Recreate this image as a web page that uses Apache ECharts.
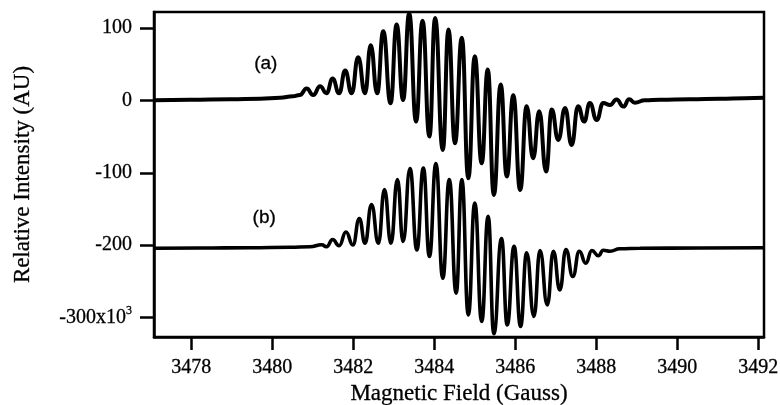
<!DOCTYPE html>
<html>
<head>
<meta charset="utf-8">
<script src="https://cdn.jsdelivr.net/npm/echarts@6/dist/echarts.min.js"></script>
<style>
  html, body { margin: 0; padding: 0; background: #fff; }
  #chart { width: 780px; height: 405px; }
</style>
</head>
<body>
<div id="chart"></div>
<script>
// spectrum (a): peaks and troughs (Gauss, x10^3 AU)
var fieldA = [3477.08, 3477.97, 3478.96, 3479.70, 3480.19, 3480.51,
  3480.68, 3480.85, 3481.01, 3481.18, 3481.34, 3481.49, 3481.65, 3481.80, 3481.96, 3482.12,
  3482.29, 3482.43, 3482.59, 3482.74, 3482.92, 3483.07, 3483.23, 3483.38, 3483.55, 3483.71,
  3483.88, 3484.02, 3484.21, 3484.35, 3484.51, 3484.68, 3484.84, 3485.00, 3485.17, 3485.32,
  3485.47, 3485.64, 3485.79, 3485.95, 3486.12, 3486.28, 3486.44, 3486.59, 3486.76, 3486.90,
  3487.06, 3487.23, 3487.39, 3487.55, 3487.70, 3487.84, 3488.01, 3488.17, 3488.34, 3488.50,
  3488.67, 3488.81, 3488.95, 3489.20, 3489.57, 3490.31, 3491.05, 3491.67, 3492.14];
var intensityA = [0, 0.7, 1.4, 2.1, 3.4, 5.5,
  7.3, 16.1, 7.3, 19.3, 9.7, 29.9, 9.7, 41.0, 9.7, 59.3,
  9.7, 75.9, 9.7, 95.2, -4.1, 104.4, 0.4, 120, -29.4, 109.9,
  -50.1, 113.5, -68.6, 97.5, -59.3, 86.2, -107.6, 60.7, -86.9, 42.3,
  -130.6, 21.7, -105.2, 6.9, -123.7, -8.3, -80, -15.2, -98.3, -12.8,
  -54.8, -10.6, -61.7, -8.3, -29.4, -3.7, -27.2, -3.7, -6.5, 1.0,
  -8.7, 1.4, -3.4, 0, 0.7, 1.4, 2.1, 2.8, 3.4];

// spectrum (b)
var fieldB = [3477.08, 3478.22, 3479.45, 3480.44, 3480.93,
  3481.22, 3481.34, 3481.49, 3481.65, 3481.82, 3481.99, 3482.15, 3482.29, 3482.45, 3482.62,
  3482.77, 3482.93, 3483.09, 3483.23, 3483.40, 3483.57, 3483.73, 3483.88, 3484.04, 3484.21,
  3484.37, 3484.54, 3484.68, 3484.84, 3485.00, 3485.17, 3485.33, 3485.47, 3485.66, 3485.80,
  3485.97, 3486.13, 3486.28, 3486.46, 3486.61, 3486.79, 3486.94, 3487.10, 3487.25, 3487.42,
  3487.58, 3487.74, 3487.89, 3488.05, 3488.17, 3488.34, 3488.58, 3489.08, 3490.56, 3492.14];
var intensityB = [-204.1, -203.9, -203.4, -202.8, -202.1,
  -199.3, -202.1, -192.1, -200.7, -181.7, -199.6, -163.2, -197.2, -143.9, -197.2,
  -123.2, -197.2, -109.4, -194.9, -94.2, -206.5, -93.4, -215.6, -87.3, -245.5,
  -109.4, -266.2, -109.4, -296.1, -141.7, -305.2, -160, -322.1, -190.8, -309.9,
  -201.4, -312.1, -210.6, -298.3, -207.3, -282.3, -208.3, -261.7, -205.9, -243.2,
  -208.3, -224.8, -207.3, -214.5, -206.9, -208.3, -204.8, -204.1, -203.9, -203.4];

var xTicks = [3478, 3480, 3482, 3484, 3486, 3488, 3490, 3492];
var yTicks = [100, 0, -100, -200, -300];

var serif = 'Liberation Serif';
// the scan is a bit heavy, thicken the glyphs slightly
var ink = { color: '#000', textBorderColor: '#000', textBorderWidth: 0.3 };

function pairs(xs, ys) {
  return xs.map(function (x, i) { return [x, ys[i]]; });
}

function tag(text, coord) {
  return {
    symbol: 'circle', symbolSize: 1,
    itemStyle: { color: 'transparent' },
    label: Object.assign({ show: true, position: 'inside', formatter: text,
      fontFamily: 'Liberation Sans', fontSize: 19 }, ink),
    data: [{ coord: coord }]
  };
}

var chart = echarts.init(document.getElementById('chart'));
var option = {
  animation: false,
  grid: { left: 154, right: 16, top: 12, bottom: 68, show: true,
    outerBoundsMode: 'none', containLabel: false,
    borderColor: '#000', borderWidth: 2.5 },
  xAxis: {
    type: 'value', min: 3477.08, max: 3492.14,
    name: 'Magnetic Field (Gauss)', nameLocation: 'middle', nameGap: 45,
    nameMoveOverlap: false,
    nameTextStyle: Object.assign({ fontFamily: serif, fontSize: 23 }, ink),
    axisLine: { onZero: false, lineStyle: { color: '#000', width: 2.5 } },
    axisTick: { customValues: xTicks, length: 13, lineStyle: { color: '#000', width: 2.5 } },
    axisLabel: Object.assign({ customValues: xTicks, margin: 21,
      fontFamily: serif, fontSize: 20,
      formatter: function (v) { return String(v); } }, ink),
    splitLine: { show: false }
  },
  yAxis: {
    type: 'value', min: -326.6, max: 121.8,
    name: 'Relative Intensity (AU)', nameLocation: 'middle', nameGap: 120,
    nameMoveOverlap: false,
    nameTextStyle: Object.assign({ fontFamily: serif, fontSize: 23 }, ink),
    axisLine: { onZero: false, lineStyle: { color: '#000', width: 2.5 } },
    axisTick: { customValues: yTicks, length: 14, lineStyle: { color: '#000', width: 2.5 } },
    axisLabel: Object.assign({
      customValues: yTicks, margin: 22, fontFamily: serif, fontSize: 20,
      formatter: function (v) { return v === -300 ? '{n|-300x10}{s|3}' : String(v); },
      rich: {
        n: Object.assign({ fontFamily: serif, fontSize: 20 }, ink),
        s: Object.assign({ fontFamily: serif, fontSize: 12, padding: [0, 0, 14, 0] }, ink)
      }
    }, ink),
    splitLine: { show: false }
  },
  series: [
    {
      name: 'a', type: 'line', data: pairs(fieldA, intensityA),
      smooth: 0.5, smoothMonotone: 'x', showSymbol: false,
      lineStyle: { color: '#000', width: 4 },
      markPoint: tag('(a)', [3479.84, 50])
    },
    {
      name: 'b', type: 'line', data: pairs(fieldB, intensityB),
      smooth: 0.5, smoothMonotone: 'x', showSymbol: false,
      lineStyle: { color: '#000', width: 3.6 },
      markPoint: tag('(b)', [3479.8, -162])
    }
  ]
};
chart.setOption(option);
</script>
</body>
</html>
